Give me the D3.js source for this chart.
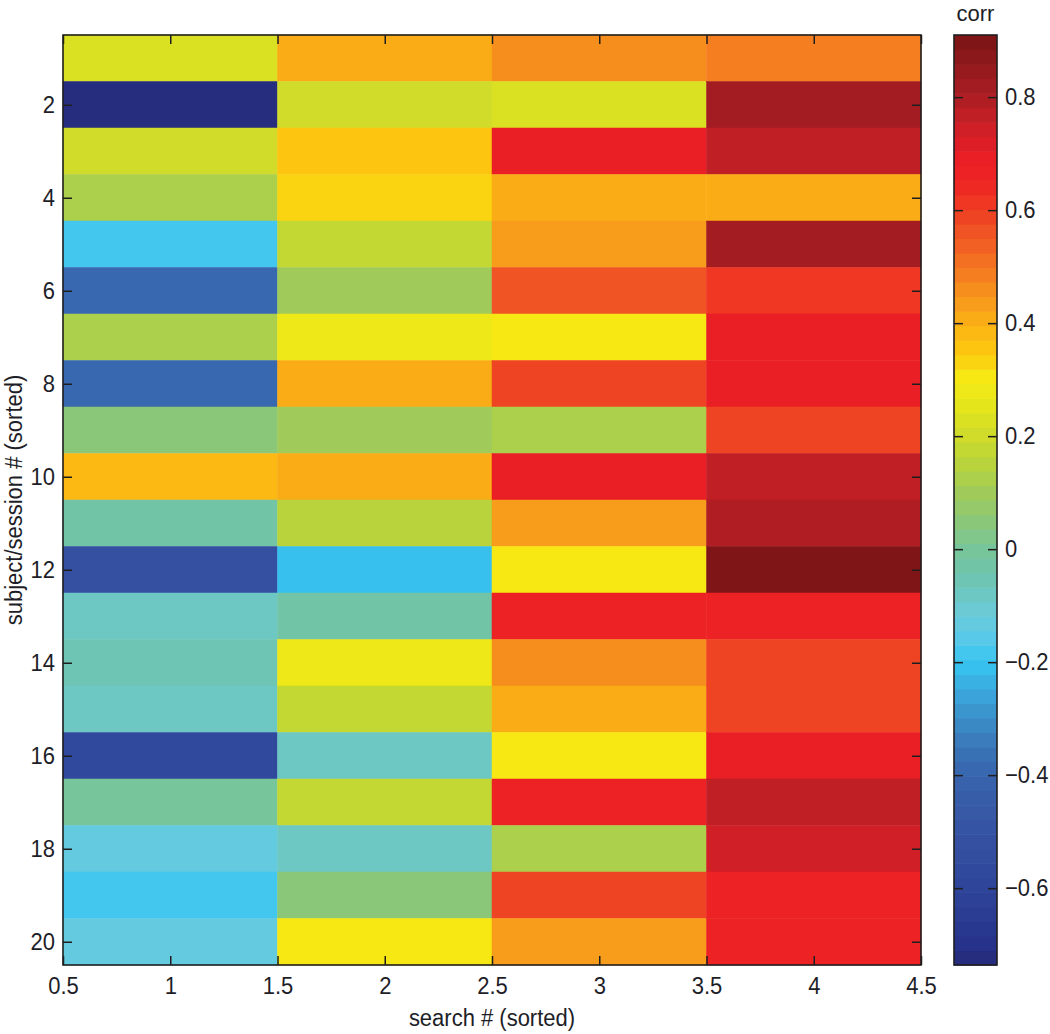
<!DOCTYPE html>
<html>
<head>
<meta charset="utf-8">
<script src="https://cdn.jsdelivr.net/npm/d3@7"></script>
<style>
  html, body { margin: 0; padding: 0; background: #fff; }
  svg { display: block; }
  text { font-family: "Liberation Sans", Arial, sans-serif; fill: #1e1e28; }
  text.stretch { transform-box: fill-box; transform-origin: center; transform: scaleY(1.09); }
</style>
</head>
<body>
<svg id="chart" width="1050" height="1034"></svg>
<script>
// ---- data ----
const searchCategories = [1, 2, 3, 4];
const subjectRows = [1, 2, 3, 4, 5, 6, 7, 8, 9, 10, 11, 12, 13, 14, 15, 16, 17, 18, 19, 20];
const search1 = [0.22, -0.72, 0.20, 0.12, -0.19, -0.38, 0.12, -0.40, 0.06, 0.39, -0.02, -0.52, -0.07, -0.05, -0.07, -0.57, -0.01, -0.13, -0.19, -0.13];
const search2 = [0.42, 0.20, 0.35, 0.32, 0.18, 0.10, 0.27, 0.40, 0.10, 0.42, 0.16, -0.22, -0.03, 0.27, 0.17, -0.09, 0.18, -0.07, 0.04, 0.31];
const search3 = [0.46, 0.23, 0.70, 0.41, 0.44, 0.57, 0.31, 0.58, 0.12, 0.68, 0.44, 0.31, 0.66, 0.45, 0.40, 0.31, 0.66, 0.12, 0.58, 0.44];
const search4 = [0.48, 0.82, 0.77, 0.41, 0.83, 0.61, 0.68, 0.68, 0.58, 0.77, 0.80, 0.90, 0.67, 0.58, 0.58, 0.68, 0.77, 0.74, 0.67, 0.67];
const xTickValues = [0.5, 1, 1.5, 2, 2.5, 3, 3.5, 4, 4.5];
const yTickValues = [2, 4, 6, 8, 10, 12, 14, 16, 18, 20];
const colorTickValues = [-0.6, -0.4, -0.2, 0, 0.2, 0.4, 0.6, 0.8];
const colorLimits = [-0.736, 0.91];
// colormap stops
const cmapValues = [-0.736, -0.7, -0.6, -0.5, -0.4, -0.35, -0.3, -0.25, -0.2, -0.15, -0.1, -0.05, 0, 0.05, 0.1, 0.15, 0.2, 0.25, 0.3, 0.35, 0.4, 0.45, 0.5, 0.55, 0.6, 0.65, 0.7, 0.75, 0.8, 0.85, 0.91];
const cmapColors = ["#252a78", "#27338a", "#2f449a", "#3653a3", "#3864ad", "#3a76b8", "#3b8fc8", "#3ba8dd", "#36c5f1", "#5fcae8", "#6dcad0", "#6ec4b1", "#78c59a", "#8cc777", "#a0cb5b", "#b8d33e", "#cfdc2a", "#e3e41d", "#f6eb14", "#fdc70f", "#fbb116", "#f7941d", "#f47521", "#f15a24", "#ef3e23", "#ee2424", "#e81e25", "#cc1f27", "#ac1e23", "#951a1d", "#7a1315"];
const nBands = 64;

// ---- layout ----
const svg = d3.select("#chart");
const plot = { left: 63, right: 921, top: 35, bottom: 965 };
const cbar = { left: 954, right: 997 };

const x = d3.scaleLinear().domain([0.5, 4.5]).range([plot.left, plot.right]);
const y = d3.scaleLinear().domain([0.5, 20.5]).range([plot.top, plot.bottom]);
const cy = d3.scaleLinear().domain(colorLimits).range([plot.bottom, plot.top]);

const cmap = d3.scaleLinear().domain(cmapValues).range(cmapColors).interpolate(d3.interpolateRgb).clamp(true);
const bandOf = v => {
  const t = (v - colorLimits[0]) / (colorLimits[1] - colorLimits[0]);
  return Math.max(0, Math.min(nBands - 1, Math.floor(t * nBands)));
};
const bandColor = i => cmap(colorLimits[0] + (i + 0.5) / nBands * (colorLimits[1] - colorLimits[0]));
const colorOf = v => bandColor(bandOf(v));

const columns = [search1, search2, search3, search4];
const cells = [];
columns.forEach((col, ci) => {
  col.forEach((v, ri) => cells.push({ sx: searchCategories[ci], sy: subjectRows[ri], v }));
});

// ---- heatmap ----
svg.append("g").selectAll("rect").data(cells).join("rect")
  .attr("x", d => x(d.sx - 0.5))
  .attr("y", d => y(d.sy - 0.5))
  .attr("width", d => x(d.sx + 0.5) - x(d.sx - 0.5))
  .attr("height", d => y(d.sy + 0.5) - y(d.sy - 0.5))
  .attr("fill", d => colorOf(d.v))
  .attr("stroke", d => colorOf(d.v))
  .attr("stroke-width", 0.5);

const fontSize = 22;
const tickLen = 9;

function styleAxis(g) {
  g.select(".domain").remove();
  g.selectAll(".tick line").attr("stroke", "#1e1e1e").attr("stroke-width", 1.5);
  g.selectAll(".tick text").attr("class", "stretch").style("font-size", fontSize + "px").style("fill", "#1e1e28");
}
const fmt = d => (d < 0 ? "\u2212" : "") + d3.format("")(Math.abs(d));

// bottom axis (ticks inward)
svg.append("g").attr("transform", `translate(0,${plot.bottom})`)
  .call(d3.axisBottom(x).tickValues(xTickValues).tickFormat(fmt).tickSizeInner(-tickLen).tickSizeOuter(0).tickPadding(13))
  .call(styleAxis);
// top axis (ticks only)
svg.append("g").attr("transform", `translate(0,${plot.top})`)
  .call(d3.axisTop(x).tickValues(xTickValues).tickFormat("").tickSizeInner(-tickLen).tickSizeOuter(0))
  .call(styleAxis);
// left axis
svg.append("g").attr("transform", `translate(${plot.left},0)`)
  .call(d3.axisLeft(y).tickValues(yTickValues).tickFormat(fmt).tickSizeInner(-tickLen).tickSizeOuter(0).tickPadding(8))
  .call(styleAxis);
// right axis (ticks only)
svg.append("g").attr("transform", `translate(${plot.right},0)`)
  .call(d3.axisRight(y).tickValues(yTickValues).tickFormat("").tickSizeInner(-tickLen).tickSizeOuter(0))
  .call(styleAxis);

// box
svg.append("rect")
  .attr("x", plot.left).attr("y", plot.top)
  .attr("width", plot.right - plot.left).attr("height", plot.bottom - plot.top)
  .attr("fill", "none").attr("stroke", "#1e1e1e").attr("stroke-width", 1.6);

// axis titles
svg.append("text")
  .attr("class", "stretch")
  .attr("x", (plot.left + plot.right) / 2).attr("y", 1025)
  .attr("text-anchor", "middle").style("font-size", fontSize + "px")
  .text("search # (sorted)");
svg.append("text")
  .attr("transform", `translate(22,${(plot.top + plot.bottom) / 2}) rotate(-90) scale(1,1.09)`)
  .attr("text-anchor", "middle").style("font-size", fontSize + "px")
  .text("subject/session # (sorted)");

// ---- colorbar ----
const bands = d3.range(nBands);
const bandH = (plot.bottom - plot.top) / nBands;
svg.append("g").selectAll("rect").data(bands).join("rect")
  .attr("x", cbar.left)
  .attr("y", i => cy(colorLimits[0] + (i + 1) / nBands * (colorLimits[1] - colorLimits[0])))
  .attr("width", cbar.right - cbar.left)
  .attr("height", bandH + 0.6)
  .attr("fill", i => bandColor(i));

svg.append("g").attr("transform", `translate(${cbar.right},0)`)
  .call(d3.axisRight(cy).tickValues(colorTickValues).tickFormat(fmt).tickSizeInner(-tickLen).tickSizeOuter(0).tickPadding(8))
  .call(styleAxis);
svg.append("g").attr("transform", `translate(${cbar.left},0)`)
  .call(d3.axisLeft(cy).tickValues(colorTickValues).tickFormat("").tickSizeInner(-tickLen).tickSizeOuter(0))
  .call(styleAxis);

svg.append("rect")
  .attr("x", cbar.left).attr("y", plot.top)
  .attr("width", cbar.right - cbar.left).attr("height", plot.bottom - plot.top)
  .attr("fill", "none").attr("stroke", "#1e1e1e").attr("stroke-width", 1.6);

svg.append("text")
  .attr("x", (cbar.left + cbar.right) / 2).attr("y", 21)
  .attr("text-anchor", "middle").style("font-size", fontSize + "px")
  .text("corr");
</script>
</body>
</html>
